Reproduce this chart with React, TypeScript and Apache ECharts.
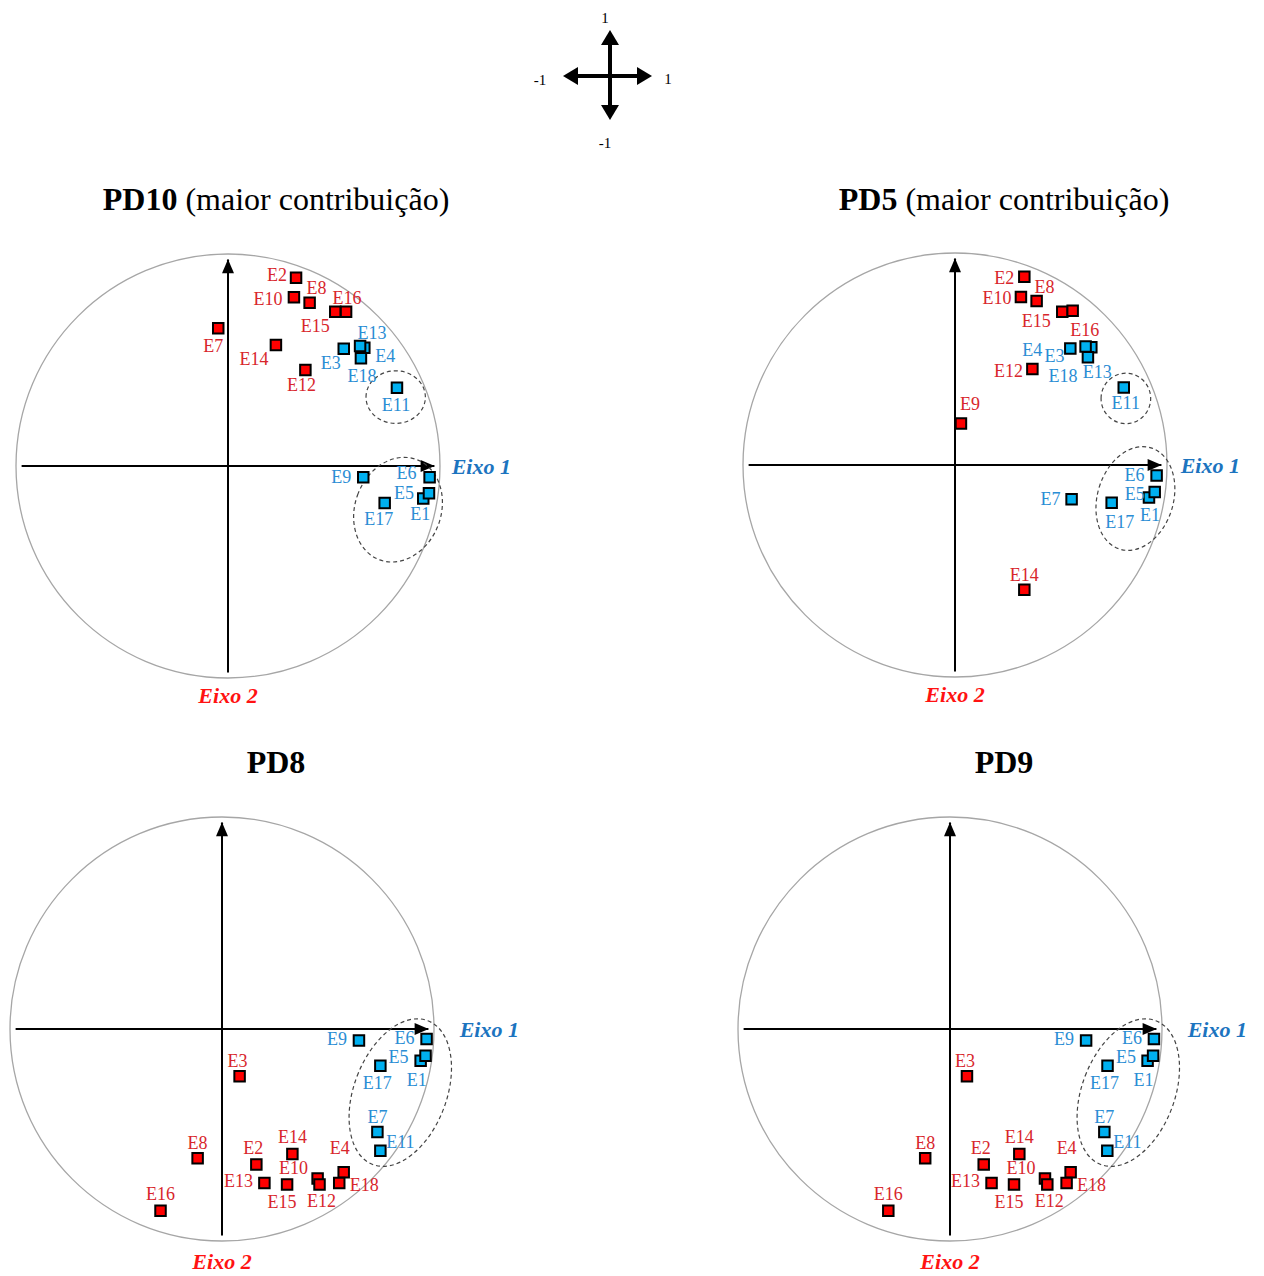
import React, { useEffect, useRef } from 'react';
import * as echarts from 'echarts';

type Point = [string, number, number];
type Offsets = Record<string, [number, number]>;

const SERIF = '"Liberation Serif", "Times New Roman", Times, serif';

// ---------- PD10 (maior contribuição) ----------
const pd10Red: Point[] = [
  ['E7', -0.046, 0.65],
  ['E2', 0.321, 0.888],
  ['E10', 0.311, 0.796],
  ['E8', 0.385, 0.77],
  ['E15', 0.506, 0.728],
  ['E16', 0.557, 0.728],
  ['E14', 0.226, 0.571],
  ['E12', 0.365, 0.453],
];
const pd10Blue: Point[] = [
  ['E3', 0.546, 0.553],
  ['E4', 0.643, 0.558],
  ['E13', 0.623, 0.566],
  ['E18', 0.627, 0.508],
  ['E11', 0.797, 0.369],
  ['E9', 0.638, -0.053],
  ['E6', 0.951, -0.053],
  ['E1', 0.921, -0.153],
  ['E5', 0.948, -0.129],
  ['E17', 0.739, -0.175],
];
// cx, cy, rx, ry, tilt in degrees (clockwise)
const pd10Groups: number[][] = [
  [0.791, 0.325, 0.14, 0.124, 0],
  [0.802, -0.206, 0.203, 0.252, 20],
];

// ---------- PD5 (maior contribuição) ----------
const pd5Red: Point[] = [
  ['E2', 0.327, 0.888],
  ['E10', 0.311, 0.792],
  ['E8', 0.385, 0.773],
  ['E15', 0.506, 0.723],
  ['E16', 0.555, 0.728],
  ['E12', 0.365, 0.453],
  ['E9', 0.028, 0.196],
  ['E14', 0.327, -0.588],
];
const pd5Blue: Point[] = [
  ['E4', 0.544, 0.55],
  ['E13', 0.643, 0.555],
  ['E3', 0.616, 0.559],
  ['E18', 0.627, 0.508],
  ['E11', 0.796, 0.366],
  ['E7', 0.55, -0.162],
  ['E17', 0.739, -0.178],
  ['E6', 0.951, -0.05],
  ['E1', 0.915, -0.153],
  ['E5', 0.942, -0.127],
];
const pd5Groups: number[][] = [
  [0.806, 0.314, 0.117, 0.119, 0],
  [0.851, -0.158, 0.179, 0.25, 17],
];

// ---------- PD8 ----------
const pd8Red: Point[] = [
  ['E3', 0.083, -0.223],
  ['E8', -0.115, -0.61],
  ['E16', -0.29, -0.857],
  ['E2', 0.162, -0.639],
  ['E14', 0.332, -0.59],
  ['E13', 0.2, -0.727],
  ['E15', 0.307, -0.734],
  ['E10', 0.451, -0.705],
  ['E12', 0.46, -0.734],
  ['E4', 0.574, -0.676],
  ['E18', 0.553, -0.727],
];
const pd8Blue: Point[] = [
  ['E9', 0.646, -0.054],
  ['E6', 0.965, -0.047],
  ['E1', 0.937, -0.15],
  ['E5', 0.96, -0.126],
  ['E17', 0.747, -0.173],
  ['E7', 0.733, -0.486],
  ['E11', 0.747, -0.574],
];
const pd8Groups: number[][] = [[0.841, -0.3, 0.218, 0.363, 21]];

// ---------- PD9 ----------
const pd9Red: Point[] = [
  ['E3', 0.08, -0.223],
  ['E8', -0.117, -0.61],
  ['E16', -0.291, -0.857],
  ['E2', 0.159, -0.639],
  ['E14', 0.327, -0.59],
  ['E13', 0.196, -0.727],
  ['E15', 0.302, -0.734],
  ['E10', 0.448, -0.705],
  ['E12', 0.459, -0.734],
  ['E4', 0.569, -0.676],
  ['E18', 0.55, -0.727],
];
const pd9Blue: Point[] = [
  ['E9', 0.642, -0.054],
  ['E6', 0.962, -0.047],
  ['E1', 0.932, -0.15],
  ['E5', 0.958, -0.126],
  ['E17', 0.743, -0.173],
  ['E7', 0.728, -0.486],
  ['E11', 0.742, -0.574],
];
const pd9Groups: number[][] = [[0.841, -0.3, 0.218, 0.363, 21]];

// unit correlation circle
const unitCircle: number[][] = [[0, 0, 1, 1, 0]];

// ---------- label placement (pixel offsets from each marker) ----------
const pd10Labels: Offsets = {
  E2: [-19, -3], E8: [7, -15], E10: [-26, 2], E16: [1, -14], E15: [-20, 14],
  E7: [-5, 18], E14: [-22, 14], E12: [-4, 15], E13: [12, -13], E4: [21, 8],
  E3: [-13, 14], E18: [1, 18], E11: [-1, 17], E9: [-22, 0], E6: [-23, -4],
  E5: [-25, 0], E1: [-3, 16], E17: [-6, 16],
};
const pd5Labels: Offsets = {
  E2: [-20, 1], E10: [-24, 1], E8: [8, -14], E15: [-26, 9], E16: [12, 19],
  E4: [-38, 2], E3: [-31, 10], E18: [-25, 19], E13: [6, 25], E12: [-24, 2],
  E11: [2, 16], E9: [9, -19], E14: [0, -15], E6: [-22, -1], E5: [-20, 2],
  E1: [1, 18], E17: [8, 19], E7: [-21, 0],
};
const lowerLabels: Offsets = {
  E10: [-24, -10], E12: [2, 16], E18: [25, 2], E4: [-4, -24], E15: [-5, 17],
  E13: [-26, -2], E2: [-3, -16], E14: [0, -17], E8: [0, -15], E16: [0, -17],
  E3: [-2, -15], E9: [-22, -1], E6: [-22, -1], E5: [-27, 1], E1: [-4, 19],
  E17: [-3, 17], E7: [0, -15], E11: [20, -9],
};

const UNIT = 212; // pixels per unit of correlation
const EXTENT = 0.97; // axis half-length in correlation units
const HALF = UNIT * EXTENT;

const RED_FILL = '#ff0000';
const BLUE_FILL = '#00b0f0';
const RED_TEXT = '#d8262c';
const BLUE_TEXT = '#2a8dd4';

const panels = [
  { origin: [228, 466], red: pd10Red, blue: pd10Blue, groups: pd10Groups, labels: pd10Labels, gap1: 18, gap2: 13 },
  { origin: [955, 465], red: pd5Red, blue: pd5Blue, groups: pd5Groups, labels: pd5Labels, gap1: 20, gap2: 13 },
  { origin: [222, 1029], red: pd8Red, blue: pd8Blue, groups: pd8Groups, labels: lowerLabels, gap1: 32, gap2: 16 },
  { origin: [950, 1029], red: pd9Red, blue: pd9Blue, groups: pd9Groups, labels: lowerLabels, gap1: 32, gap2: 16 },
];

function ellipseRenderer(style: any) {
  return (_params: any, api: any) => {
    const c = api.coord([api.value(0), api.value(1)]);
    const s = api.size([api.value(2), api.value(3)]);
    return {
      type: 'ellipse',
      x: c[0],
      y: c[1],
      rotation: (-api.value(4) * Math.PI) / 180,
      shape: { cx: 0, cy: 0, rx: s[0], ry: s[1] },
      style,
    };
  };
}

function buildOption() {
  const grid: any[] = [];
  const xAxis: any[] = [];
  const yAxis: any[] = [];
  const series: any[] = [];

  panels.forEach((p, i) => {
    grid.push({
      left: p.origin[0] - HALF,
      top: p.origin[1] - HALF,
      width: HALF * 2,
      height: HALF * 2,
      containLabel: false,
    });
    const axisBase = {
      gridIndex: i,
      type: 'value',
      min: -EXTENT,
      max: EXTENT,
      axisTick: { show: false },
      axisLabel: { show: false },
      splitLine: { show: false },
    };
    const axisLine = {
      show: true,
      onZero: true,
      symbol: ['none', 'triangle'],
      symbolSize: [12, 14],
      symbolOffset: [0, -6],
      lineStyle: { color: '#000', width: 2 },
    };
    const nameFont = {
      fontFamily: SERIF,
      fontStyle: 'italic',
      fontWeight: 'bold',
      fontSize: 22,
    };
    xAxis.push({
      ...axisBase,
      axisLine,
      name: 'Eixo 1',
      nameLocation: 'end',
      nameGap: p.gap1,
      nameTextStyle: { ...nameFont, color: '#1c74bf', verticalAlign: 'middle' },
    });
    yAxis.push({
      ...axisBase,
      axisLine,
      name: 'Eixo 2',
      nameLocation: 'start',
      nameGap: p.gap2,
      nameTextStyle: { ...nameFont, color: '#ff1212' },
    });

    series.push({
      type: 'custom',
      xAxisIndex: i,
      yAxisIndex: i,
      silent: true,
      clip: false,
      z: 1,
      data: unitCircle,
      renderItem: ellipseRenderer({ fill: 'none', stroke: '#a6a6a6', lineWidth: 1.3 }),
    });
    series.push({
      type: 'custom',
      xAxisIndex: i,
      yAxisIndex: i,
      silent: true,
      clip: false,
      z: 1,
      data: p.groups,
      renderItem: ellipseRenderer({ fill: 'none', stroke: '#444', lineWidth: 1.2, lineDash: [4, 3] }),
    });

    const makeScatter = (pts: Point[], fill: string, textColor: string) => ({
      type: 'scatter',
      xAxisIndex: i,
      yAxisIndex: i,
      silent: true,
      z: 5,
      symbol: 'rect',
      symbolSize: 10.5,
      itemStyle: { color: fill, borderColor: '#000', borderWidth: 2, opacity: 1 },
      label: {
        show: true,
        position: 'inside',
        formatter: '{b}',
        color: textColor,
        fontFamily: SERIF,
        fontSize: 18,
      },
      data: pts.map(([name, x, y]) => ({
        name,
        value: [x, y],
        label: { offset: p.labels[name] || [0, 0] },
      })),
    });
    series.push(makeScatter(p.red, RED_FILL, RED_TEXT));
    series.push(makeScatter(p.blue, BLUE_FILL, BLUE_TEXT));
  });

  const titleRich = {
    b: { fontFamily: SERIF, fontSize: 32, fontWeight: 'bold', fill: '#000' },
    n: { fontFamily: SERIF, fontSize: 32, fontWeight: 'normal', fill: '#000' },
  };
  const title = (text: string, x: number, y: number) => ({
    type: 'text',
    x,
    y,
    style: {
      text,
      rich: titleRich,
      fontFamily: SERIF,
      fontSize: 32,
      align: 'center',
      verticalAlign: 'middle',
      fill: '#000',
    },
  });
  const small = (text: string, x: number, y: number) => ({
    type: 'text',
    x,
    y,
    style: { text, fontFamily: SERIF, fontSize: 15, fill: '#000', align: 'center', verticalAlign: 'middle' },
  });
  const bar = (x1: number, y1: number, x2: number, y2: number) => ({
    type: 'line',
    shape: { x1, y1, x2, y2 },
    style: { stroke: '#000', lineWidth: 4 },
  });
  const head = (pts: number[][]) => ({ type: 'polygon', shape: { points: pts }, style: { fill: '#000' } });

  // orientation key: both axes run from -1 to 1
  const cx = 608;
  const cy = 76;
  const graphic = [
    title('{b|PD10}{n| (maior contribuição)}', 276, 199),
    title('{b|PD5}{n| (maior contribuição)}', 1004, 199),
    title('{b|PD8}', 276, 762),
    title('{b|PD9}', 1004, 762),
    bar(cx - 32, cy, cx + 32, cy),
    bar(610, cy - 33, 610, cy + 31),
    head([[cx + 44, cy], [cx + 29, cy - 9], [cx + 29, cy + 9]]),
    head([[cx - 45, cy], [cx - 30, cy - 9], [cx - 30, cy + 9]]),
    head([[610, 30], [601, 45], [619, 45]]),
    head([[610, 120], [601, 105], [619, 105]]),
    small('1', 605, 18),
    small('-1', 540, 80),
    small('1', 668, 79),
    small('-1', 605, 143),
  ];

  return {
    animation: false,
    backgroundColor: '#ffffff',
    grid,
    xAxis,
    yAxis,
    series,
    graphic,
  };
}

export default function App() {
  const ref = useRef<HTMLDivElement>(null);
  useEffect(() => {
    if (!ref.current) return;
    const chart = echarts.init(ref.current, undefined, { renderer: 'svg' });
    chart.setOption(buildOption() as any);
    return () => chart.dispose();
  }, []);
  return (
    <div
      ref={ref}
      style={{ position: 'absolute', left: 0, top: 0, width: 1264, height: 1276, background: '#fff' }}
    />
  );
}
